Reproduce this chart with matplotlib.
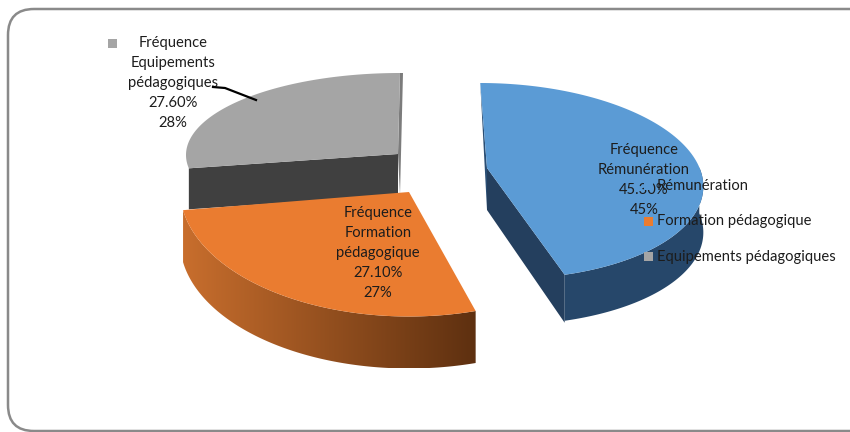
import matplotlib
matplotlib.use("Agg")
import matplotlib.pyplot as plt
from matplotlib.patches import FancyBboxPatch, Polygon
import numpy as np

categories = ["Rémunération", "Formation pédagogique", "Equipements pédagogiques"]
values = [45.3, 27.1, 27.6]
rounded = ["45%", "27%", "28%"]
slice_names = ["Rémunération", "Formation\npédagogique", "Equipements\npédagogiques"]
colors = ["#5B9BD5", "#EA7C30", "#A5A5A5"]

# where each slice sits on the canvas (pixels): ellipse centre, radii, skew, apex, depth
ell_x = [492, 409, 400]
ell_y = [181, 189.5, 155]
rad_x = [211, 229, 214]
rad_y = [98, 127, 82]
skew = [0.12, 0, 0]
apex = [(487, 168), (409, 192), (398, 154)]
depth = [46, 52, 41]

plt.rcParams['font.family'] = ['Lato', 'DejaVu Sans']
fig = plt.figure(figsize=(8.5, 4.32), dpi=100)
ax = fig.add_axes([0, 0, 1, 1])
ax.set_xlim(0, 850)
ax.set_ylim(432, 0)
ax.axis("off")

ax.add_patch(FancyBboxPatch((8, 9), 880, 422, boxstyle="round,pad=0,rounding_size=26",
	fc="white", ec="#8a8a8a", lw=1.8, zorder=0))

def arc(i, a0, a1):
	t = np.radians(np.linspace(a0, a1, 120))
	y_off = -rad_y[i] * np.sin(t)
	x = ell_x[i] + rad_x[i] * np.cos(t) + skew[i] * y_off
	y = ell_y[i] + y_off
	return np.column_stack([x, y])

def shifted(pts, d):
	return pts + np.array([0, d])

# slice angles, clockwise from the top
stops = 90 - np.cumsum([0] + values) * 3.6
a_blue = (stops[0], stops[1])
a_orange = (stops[1], stops[2])
a_gray = (stops[2], stops[3])

# gray slice
g_arc = arc(2, *a_gray)
gx, gy = apex[2]
gd = depth[2]
ax.add_patch(Polygon([g_arc[0], (gx, gy), (gx, gy + gd), (g_arc[0][0], g_arc[0][1] + gd)],
	fc="#404040", ec="none", zorder=1))
ax.add_patch(Polygon([g_arc[-1], (g_arc[-1][0] + 3, g_arc[-1][1]), (gx + 2, gy + gd), (gx, gy)],
	fc="#7c7c7c", ec="none", zorder=1))
ax.add_patch(Polygon(np.vstack([g_arc, [(gx, gy)]]), fc=colors[2], ec="none", zorder=2))

# orange slice, the outer wall has a gradient
o_arc = arc(1, *a_orange)
ox, oy = apex[1]
wall = np.vstack([o_arc, shifted(o_arc, depth[1])[::-1]])
wall_patch = Polygon(wall, fc="none", ec="none", zorder=3)
ax.add_patch(wall_patch)
ramp = np.linspace(0, 1, 256).reshape(1, -1, 1)
c0 = np.array([0xC8, 0x6E, 0x2D]) / 255
c1 = np.array([0x5E, 0x30, 0x10]) / 255
im = ax.imshow(c0 + (c1 - c0) * ramp, aspect="auto", zorder=3,
	extent=(wall[:, 0].min(), wall[:, 0].max(), wall[:, 1].max(), wall[:, 1].min()))
im.set_clip_path(wall_patch)
ax.set_xlim(0, 850)
ax.set_ylim(432, 0)
ax.add_patch(Polygon(np.vstack([o_arc, [(ox, oy)]]), fc=colors[1], ec="none", zorder=4))

# blue slice
b_arc = arc(0, *a_blue)
bx, by = apex[0]
bd = depth[0]
end = b_arc[-1]
ax.add_patch(Polygon([(b_arc[0][0], b_arc[0][1]), (bx, by), (bx, by + 42)],
	fc="#2A4E74", ec="none", zorder=3))
ax.add_patch(Polygon([(bx, by), end, (end[0], end[1] + 48), (bx, by + 42)],
	fc="#243F5E", ec="none", zorder=3))
b_wall = arc(0, a_blue[1], 8)
ax.add_patch(Polygon(np.vstack([b_wall, shifted(b_wall, bd)[::-1]]), fc="#26476A", ec="none", zorder=3))
ax.add_patch(Polygon(np.vstack([b_arc, [(bx, by)]]), fc=colors[0], ec="none", zorder=4))

# data labels
label_x = [644, 378, 173]
label_y = [180, 253, 83]
for i in range(3):
	txt = "Fréquence\n%s\n%.2f%%\n%s" % (slice_names[i], values[i], rounded[i])
	ax.text(label_x[i], label_y[i], txt, ha="center", va="center", fontsize=10.6,
		color="#1c1c1c", linespacing=1.56, zorder=6)

# leader line for the gray label
ax.plot([213, 225, 256], [87, 88, 100], color="black", lw=1.6, zorder=6)

# legend
legend_y = [185.5, 221.5, 256.5]
for i in range(3):
	ax.add_patch(Polygon([(644, legend_y[i] - 4.5), (653, legend_y[i] - 4.5),
		(653, legend_y[i] + 4.5), (644, legend_y[i] + 4.5)], fc=colors[i], ec="none", zorder=7))
	ax.text(657, legend_y[i], categories[i], ha="left", va="center", fontsize=10.6,
		color="#1c1c1c", zorder=8)

# stray marker next to the gray label
ax.add_patch(Polygon([(108, 39), (117, 39), (117, 48), (108, 48)], fc=colors[2], ec="none", zorder=7))

fig.savefig("out.png", dpi=100)
plt.close(fig)
